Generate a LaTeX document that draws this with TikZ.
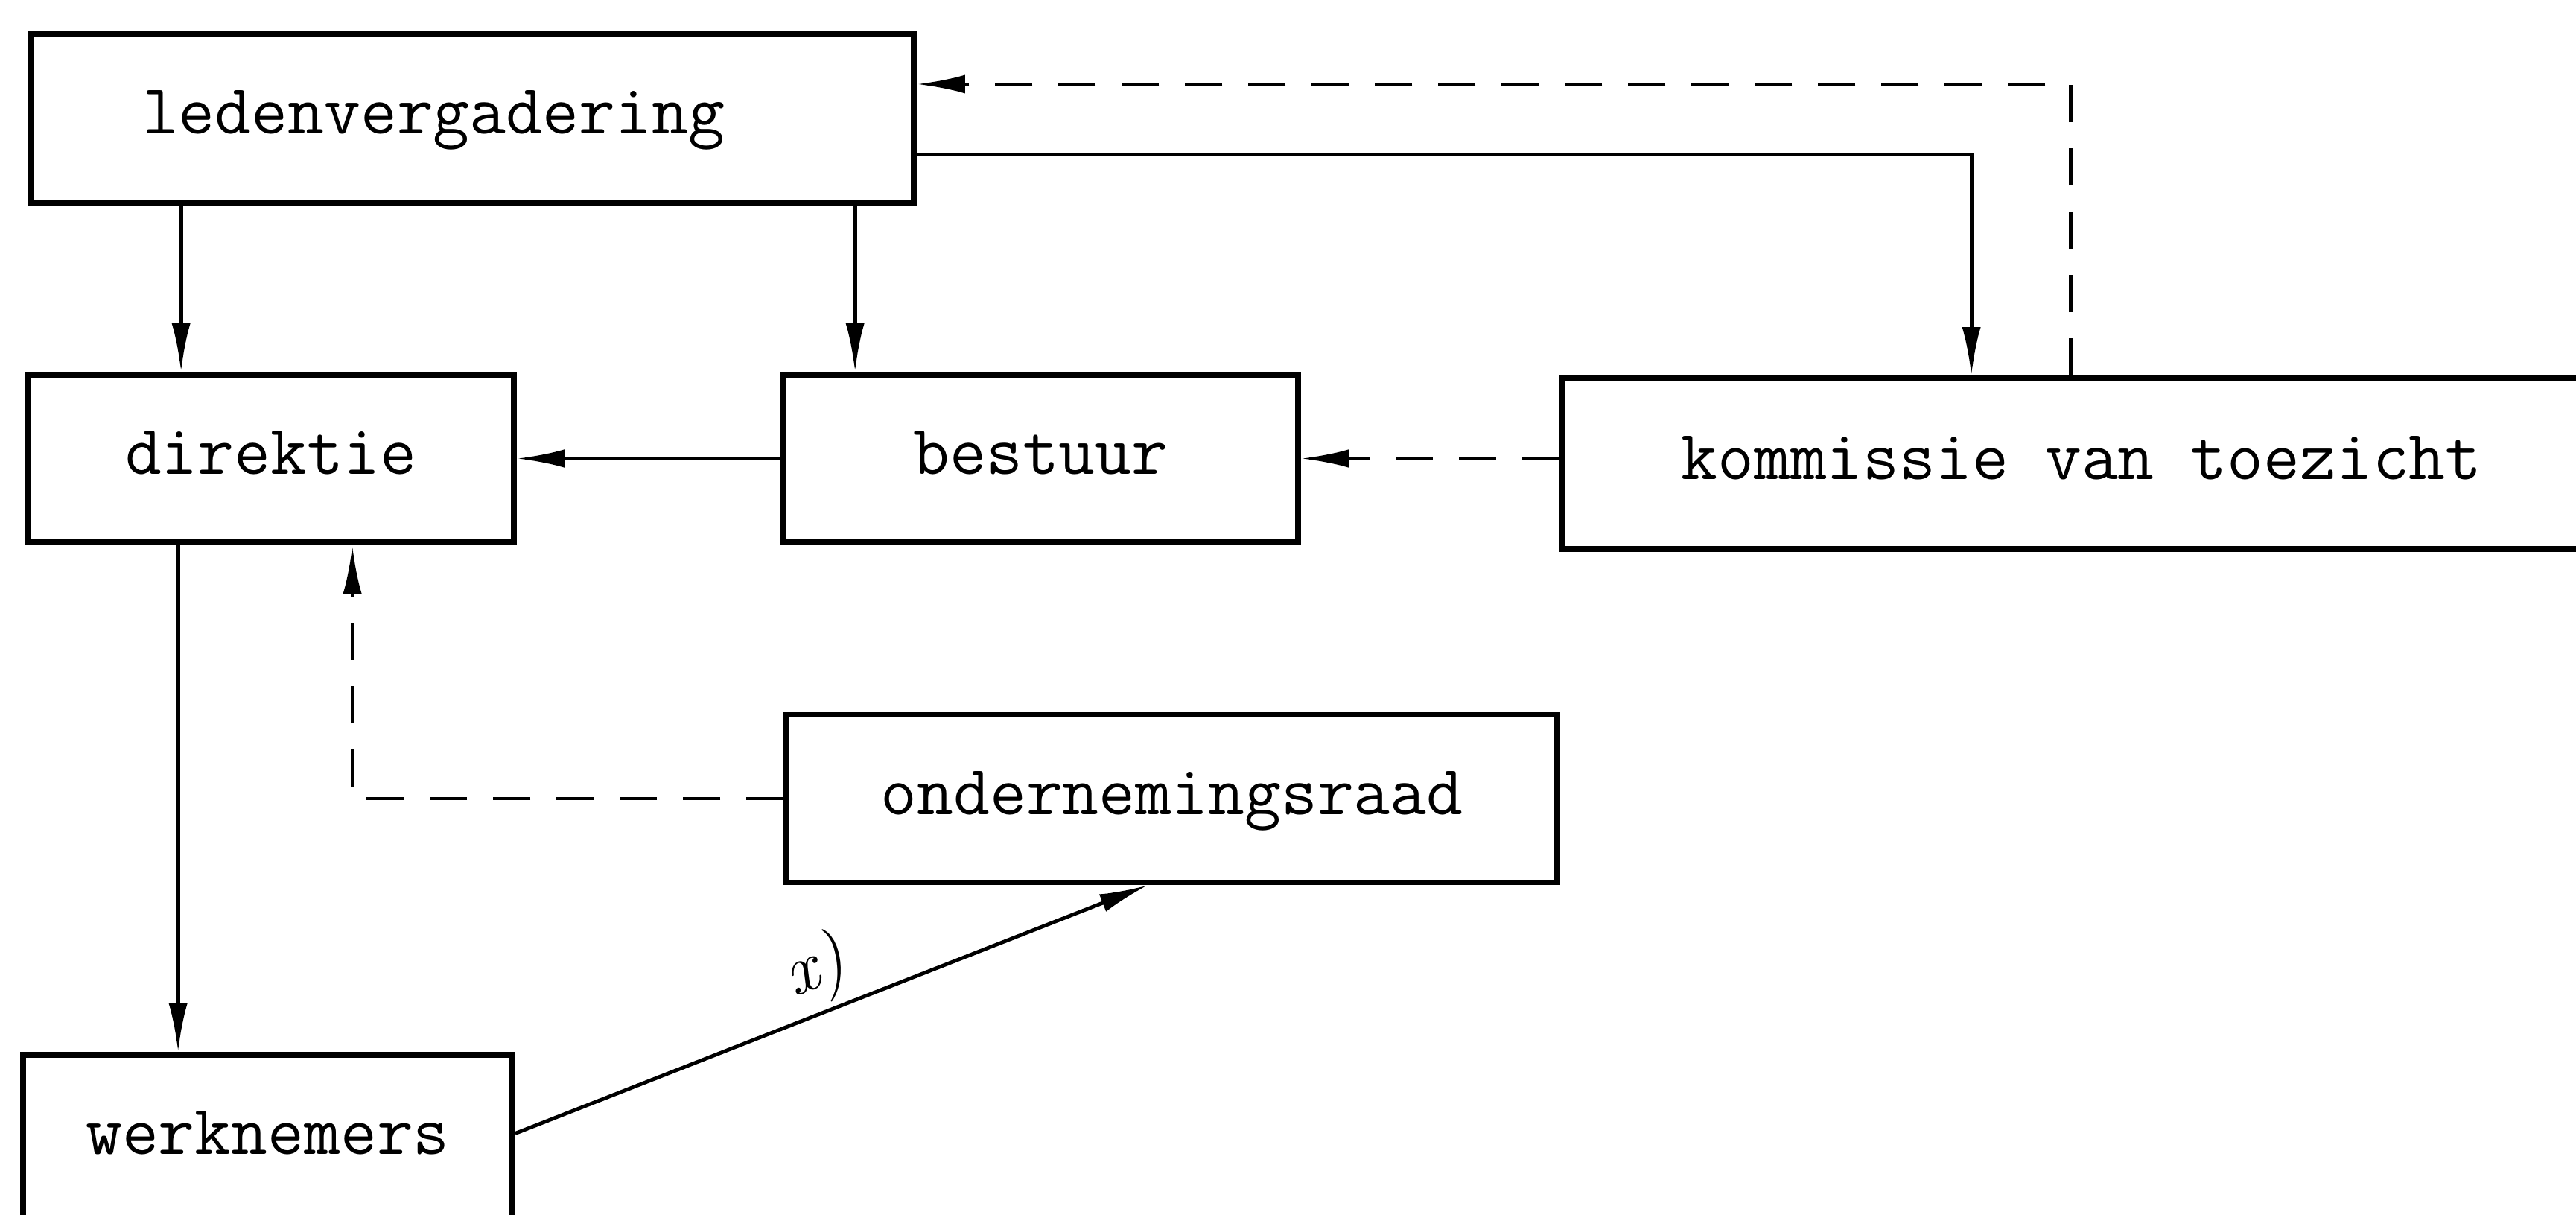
\documentclass[tikz,border=0pt]{standalone}
\usetikzlibrary{arrows.meta}

\tikzset{
  orgbox/.style={draw, line width=2.2pt, minimum height=2.25cm, inner sep=0pt,
    font=\fontsize{27}{32}\selectfont\ttfamily, text height=0.42cm, text depth=0pt},
  lijn/.style={line width=1.4pt, -{Latex[length=0.65cm,width=0.25cm]}},
  advies/.style={lijn, dash pattern=on 0.5cm off 0.35cm},
}

\begin{document}
\begin{tikzpicture}
    \useasboundingbox (0,0) rectangle (34.59,16.30);
    \clip (0,0) rectangle (34.59,16.30);

    % organen
    \node[orgbox, minimum width=11.86cm, minimum height=2.27cm, text width=8.86cm, align=left] (leden) at (6.34,14.715) {ledenvergadering};
    \node[orgbox, minimum width=6.53cm] (direktie) at (3.635,10.145) {direktie};
    \node[orgbox, minimum width=6.91cm] (bestuur) at (13.975,10.145) {bestuur};
    \node[orgbox, minimum width=13.94cm, minimum height=2.29cm] (kommissie) at (27.95,10.075) {kommissie van toezicht};
    \node[orgbox, minimum width=10.35cm] (onder) at (15.735,5.58) {ondernemingsraad};
    \node[orgbox, minimum width=6.57cm] (werknemers) at (3.595,1.015) {werknemers};

    % benoemen / aansturen
    \draw[lijn] ([xshift=2.1cm]direktie.north west |- leden.south) -- ([xshift=2.1cm]direktie.north west);
    \draw[lijn] ([xshift=1.0cm]bestuur.north west |- leden.south) -- ([xshift=1.0cm]bestuur.north west);
    \draw[lijn] ([yshift=-0.485cm]leden.east) -| ([xshift=5.53cm]kommissie.north west);
    \draw[lijn] (bestuur.west) -- (bestuur.west -| direktie.east);
    \draw[lijn] ([xshift=2.06cm]direktie.south west) -- ([xshift=2.06cm]direktie.south west |- werknemers.north);
    \draw[lijn] ([yshift=0.07cm]werknemers.east) -- ([xshift=4.89cm]onder.south west)
        node[midway, sloped, above=2pt, inner sep=0pt, font=\fontsize{27}{32}\selectfont\itshape] (xnoot) {x)};

    % advies en toezicht
    \draw[advies] ([xshift=6.86cm]kommissie.north west) |- ([yshift=0.455cm]leden.east);
    \draw[advies] (bestuur.east -| kommissie.west) -- (bestuur.east);
    \draw[advies] (onder.west) -| ([xshift=4.4cm]direktie.south west);
\end{tikzpicture}
\end{document}
